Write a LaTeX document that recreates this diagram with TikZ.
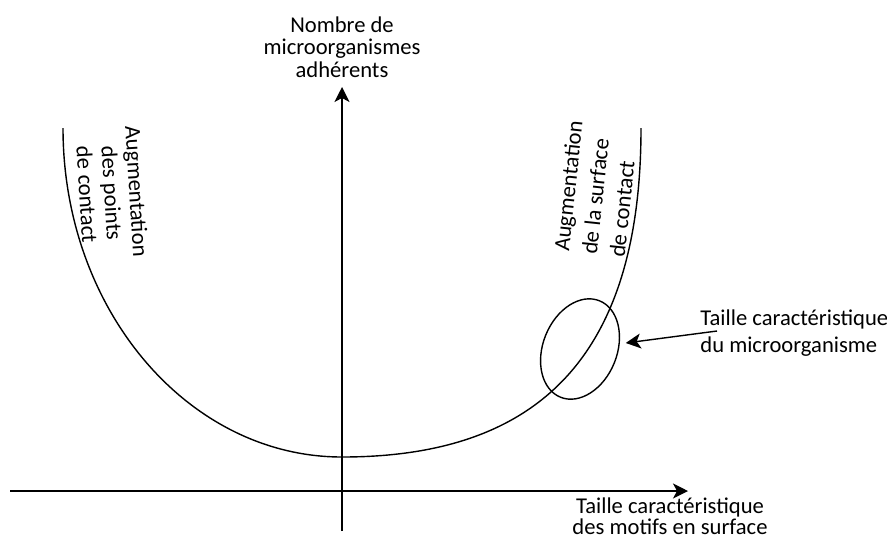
\documentclass[tikz,border=0pt]{standalone}
\usepackage{fontspec}
\setmainfont{Carlito}
\usetikzlibrary{arrows.meta,shapes.geometric}

\tikzset{
    trait/.style={line width=0.7pt},
    axe/.style={trait,-{Stealth[length=7.5pt,width=7.5pt,inset=2pt]}},
    legende/.style={inner sep=0pt,font=\fontsize{11.3pt}{#1}\selectfont},
    legende/.default={13pt},
}

\begin{document}
\begin{tikzpicture}[x=0.5pt,y=0.5pt]
    \useasboundingbox (0,0) rectangle (887,538);
    \coordinate (xdebut) at (10,47);
    \coordinate (xfin) at (688,47);
    \coordinate (ydebut) at (342,7);
    \coordinate (yfin) at (342,451);
    \draw[axe] (xdebut) -- (xfin);
    \draw[axe] (ydebut) -- (yfin);
    \draw[trait] (63,410) arc[start angle=180,end angle=270,x radius=279,y radius=329]
        .. controls (535,81) and (641,178) .. (641,410);
    \node[trait,draw,ellipse,minimum width=37pt,minimum height=52pt,inner sep=0pt,rotate=-22] (micro) at (580,189) {};
    \node[legende=11.25pt,align=center] (ytitre) at (342,491) {Nombre de\\microorganismes\\adhérents};
    \node[legende=10.3pt,align=center] (xtitre) at (670,22) {Taille caractéristique\\des motifs en surface};
    \node[legende=13.5pt,align=left,anchor=west] (taille) at (700,205) {Taille caractéristique\\du microorganisme};
    \node[legende=12.5pt,align=center,rotate=-86.5] (points) at (112,345) {Augmentation\\des points\\de contact};
    \node[legende=14pt,align=left,rotate=84] (surface) at (596,349) {Augmentation\\de la surface\\de contact};
    \draw[axe,shorten >=3pt] ([shift={(17,2)}]taille.west) -- (micro);
\end{tikzpicture}
\end{document}
